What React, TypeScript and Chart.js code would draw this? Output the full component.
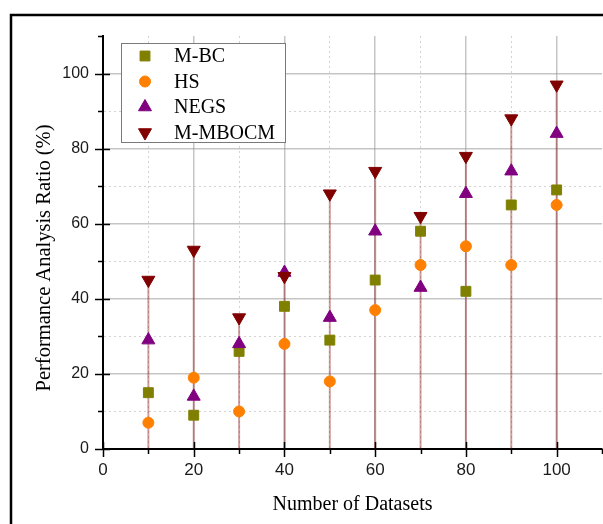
import React, { useEffect, useRef } from 'react';
import { Chart, registerables } from 'chart.js';
import { drawPoint } from 'chart.js/helpers';

Chart.register(...registerables);

// ---- data ----
const xValues = [10, 20, 30, 40, 50, 60, 70, 80, 90, 100];
const seriesLabels = ['M-BC', 'HS', 'NEGS', 'M-MBOCM'];
const mbcValues = [15, 9, 26, 38, 29, 45, 58, 42, 65, 69];
const hsValues = [7, 19, 10, 28, 18, 37, 49, 54, 49, 65];
const negsValues = [29, 14, 28, 47, 35, 58, 43, 68, 74, 84];
const mmbocmValues = [45, 53, 35, 46, 68, 74, 62, 78, 88, 97];
const xTitle = 'Number of Datasets';
const yTitle = 'Performance Analysis Ratio (%)';
const axisMin = 0;
const xAxisMax = 110;
const yAxisMax = 110;
const tickStep = 10;

const colors = ['#808000', '#ff8000', '#800080', '#800000'];
const pointStyles = ['rect', 'circle', 'triangle', 'triangle'];
const rotations = [0, 0, 0, 180];
const radii = [7, 5.5, 7.5, 7.5];

const MAJOR_GRID = 'rgba(150,150,150,0.55)';
const MINOR_GRID = 'rgba(175,175,175,0.55)';

const isMajor = (v: number) => v % 20 === 0;

const framePlugin = {
  id: 'frame',
  beforeDraw(chart: any) {
    const ctx = chart.ctx;
    ctx.save();
    ctx.strokeStyle = '#000';
    ctx.lineWidth = 2.5;
    ctx.beginPath();
    ctx.moveTo(11, 524);
    ctx.lineTo(11, 15);
    ctx.lineTo(603, 15);
    ctx.stroke();
    ctx.restore();
  },
};

const dropLinePlugin = {
  id: 'dropLines',
  beforeDatasetsDraw(chart: any) {
    const ctx = chart.ctx;
    const xs = chart.scales.x;
    const ys = chart.scales.y;
    const area = chart.chartArea;
    ctx.save();
    ctx.beginPath();
    ctx.rect(area.left, area.top, area.right - area.left, area.bottom - area.top);
    ctx.clip();
    ctx.strokeStyle = 'rgba(128,0,0,0.38)';
    ctx.lineWidth = 2;
    xValues.forEach((xv, i) => {
      const px = xs.getPixelForValue(xv);
      const py = ys.getPixelForValue(mmbocmValues[i]);
      const p0 = ys.getPixelForValue(0);
      ctx.beginPath();
      ctx.moveTo(px, py);
      ctx.lineTo(px, p0);
      ctx.stroke();
    });
    ctx.restore();
  },
};

const ticksPlugin = {
  id: 'customTicks',
  afterDraw(chart: any) {
    const ctx = chart.ctx;
    const xs = chart.scales.x;
    const ys = chart.scales.y;
    const area = chart.chartArea;
    ctx.save();
    ctx.strokeStyle = '#000';
    ctx.lineWidth = 1.5;
    ys.ticks.forEach((t: any) => {
      const py = Math.round(ys.getPixelForValue(t.value)) + 0.5;
      const major = isMajor(t.value);
      const out = major ? 8 : 5;
      const inn = major ? 7 : 0;
      ctx.beginPath();
      ctx.moveTo(area.left - out, py);
      ctx.lineTo(area.left + inn, py);
      ctx.stroke();
    });
    xs.ticks.forEach((t: any) => {
      const px = Math.round(xs.getPixelForValue(t.value)) + 0.5;
      const major = isMajor(t.value);
      const out = major ? 8 : 5;
      const inn = major ? 7 : 0;
      ctx.beginPath();
      ctx.moveTo(px, area.bottom + out);
      ctx.lineTo(px, area.bottom - inn);
      ctx.stroke();
    });
    // y-axis title
    ctx.fillStyle = '#000';
    ctx.font = '20.5px "Liberation Serif", "Times New Roman", serif';
    ctx.textAlign = 'center';
    ctx.textBaseline = 'middle';
    ctx.translate(45, 258);
    ctx.rotate(-Math.PI / 2);
    ctx.fillText(yTitle, 0, 0);
    ctx.restore();
  },
};

const legendPlugin = {
  id: 'boxLegend',
  afterDatasetsDraw(chart: any) {
    const ctx = chart.ctx;
    const bx = 121.5, by = 43.5, bw = 164, bh = 99;
    ctx.save();
    ctx.fillStyle = '#fff';
    ctx.fillRect(bx, by, bw, bh);
    ctx.strokeStyle = '#7a7a7a';
    ctx.lineWidth = 1;
    ctx.strokeRect(bx, by, bw, bh);
    ctx.font = '20px "Liberation Serif", "Times New Roman", serif';
    ctx.textAlign = 'left';
    ctx.textBaseline = 'middle';
    chart.data.datasets.forEach((ds: any, i: number) => {
      const y = 56 + i * 25.5;
      ctx.fillStyle = colors[i];
      ctx.strokeStyle = colors[i];
      ctx.lineWidth = 1;
      drawPoint(ctx, {
        pointStyle: pointStyles[i],
        radius: radii[i],
        rotation: rotations[i],
        borderWidth: 1,
      } as any, 145, y);
      ctx.fillStyle = '#000';
      ctx.fillText(ds.label, 174, y + 1);
    });
    ctx.restore();
  },
};

const gridColor = (ctx: any) => {
  const v = ctx.tick ? ctx.tick.value : -1;
  if (v <= axisMin || v >= xAxisMax) return 'rgba(0,0,0,0)';
  return isMajor(v) ? MAJOR_GRID : MINOR_GRID;
};
const gridWidth = (ctx: any) => {
  const v = ctx.tick ? ctx.tick.value : -1;
  return isMajor(v) ? 1.5 : 1;
};
const gridDash = (ctx: any) => {
  if (!ctx.tick) return [];
  return isMajor(ctx.tick.value) ? [] : [2, 3];
};
const tickLabel = (v: any) => (isMajor(Number(v)) ? String(v) : '');

export default function App() {
  const ref = useRef<HTMLCanvasElement>(null);
  useEffect(() => {
    if (!ref.current) return;
    const series = [mbcValues, hsValues, negsValues, mmbocmValues];
    const chart = new Chart(ref.current, {
      type: 'scatter',
      data: {
        datasets: series.map((vals, i) => ({
          label: seriesLabels[i],
          data: xValues.map((x, j) => ({ x, y: vals[j] })),
          backgroundColor: colors[i],
          borderColor: colors[i],
          borderWidth: 1,
          pointStyle: pointStyles[i] as any,
          pointRotation: rotations[i],
          pointRadius: radii[i],
          pointHoverRadius: radii[i],
          order: 4 - i,
        })),
      },
      options: {
        responsive: false,
        animation: false,
        events: [],
        layout: { autoPadding: false, padding: { left: 0, right: 1, top: 36, bottom: 0 } },
        plugins: {
          legend: { display: false },
          tooltip: { enabled: false },
          title: { display: false },
        },
        scales: {
          x: {
            type: 'linear',
            min: axisMin,
            max: xAxisMax,
            afterFit: (s: any) => { s.height = 75; s.paddingLeft = 0; s.paddingRight = 0; },
            ticks: {
              stepSize: tickStep,
              autoSkip: false,
              maxRotation: 0,
              padding: 11,
              color: '#1a1a1a',
              font: { family: '"Liberation Sans", Arial, sans-serif', size: 17 },
              callback: tickLabel,
            },
            grid: {
              drawTicks: false,
              color: gridColor,
              lineWidth: gridWidth,
            },
            border: { display: true, color: '#000', width: 2, dash: gridDash },
            title: {
              display: true,
              text: xTitle,
              color: '#000',
              font: { family: '"Liberation Serif", "Times New Roman", serif', size: 20 },
              padding: { top: 0, bottom: 7 },
            },
          },
          y: {
            type: 'linear',
            min: axisMin,
            max: yAxisMax,
            afterFit: (s: any) => { s.width = 103; s.paddingTop = 0; s.paddingBottom = 0; },
            ticks: {
              stepSize: tickStep,
              autoSkip: false,
              padding: 14,
              color: '#1a1a1a',
              font: { family: '"Liberation Sans", Arial, sans-serif', size: 16 },
              callback: tickLabel,
            },
            grid: {
              drawTicks: false,
              color: gridColor,
              lineWidth: gridWidth,
            },
            border: { display: true, color: '#000', width: 2, dash: gridDash },
          },
        },
      },
      plugins: [framePlugin, dropLinePlugin, ticksPlugin, legendPlugin],
    });
    return () => chart.destroy();
  }, []);
  return (
    <div style={{ position: 'absolute', left: 0, top: 0, width: 603, height: 524, background: '#fff' }}>
      <canvas ref={ref} width={603} height={524} style={{ display: 'block' }} />
    </div>
  );
}
